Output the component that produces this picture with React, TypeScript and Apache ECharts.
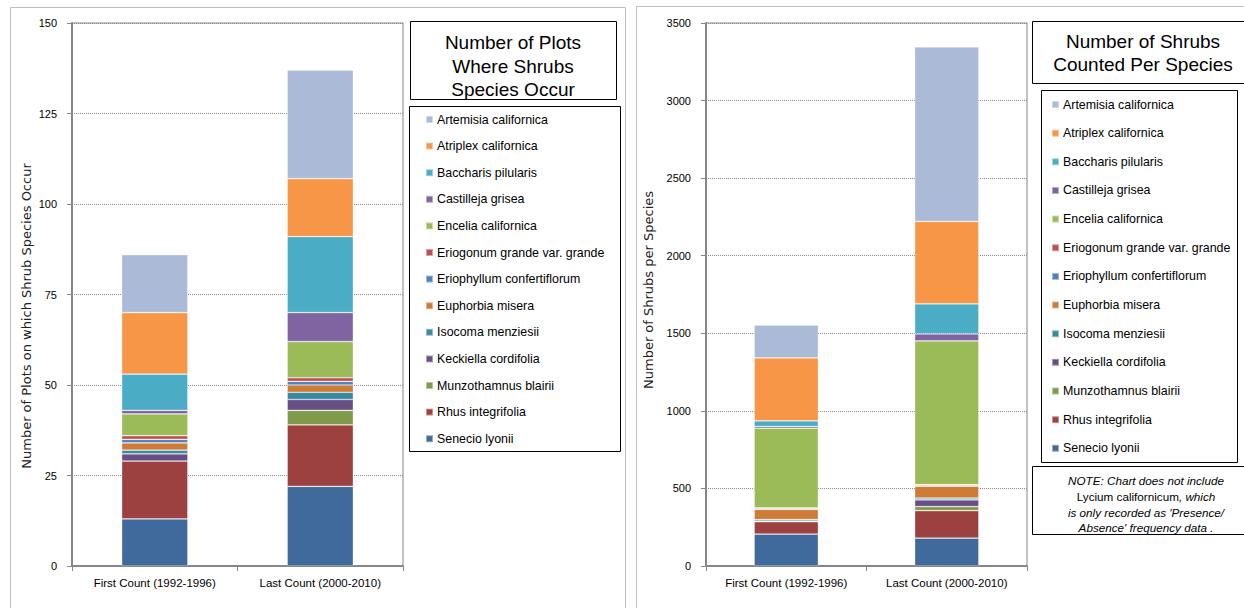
import React, { useEffect, useRef } from "react";
import * as echarts from "echarts";

// ---- data ----
const species = [
  "Artemisia californica",
  "Atriplex californica",
  "Baccharis pilularis",
  "Castilleja grisea",
  "Encelia californica",
  "Eriogonum grande var. grande",
  "Eriophyllum confertiflorum",
  "Euphorbia misera",
  "Isocoma menziesii",
  "Keckiella cordifolia",
  "Munzothamnus blairii",
  "Rhus integrifolia",
  "Senecio lyonii",
];
const categories = ["First Count (1992-1996)", "Last Count (2000-2010)"];

// Number of plots where species occur (same order as species)
const plotsFirst = [16, 17, 10, 1, 6, 1, 1, 2, 1, 2, 0, 16, 13];
const plotsLast = [30, 16, 21, 8, 10, 1, 1, 2, 2, 3, 4, 17, 22];

// Number of shrubs counted per species
const shrubsFirst = [211, 406, 37, 11, 513, 7, 3, 66, 9, 4, 0, 80, 206];
const shrubsLast = [1125, 531, 194, 45, 927, 6, 4, 76, 12, 43, 26, 177, 180];

const colors = [
  "#AABAD7",
  "#F79646",
  "#4BACC6",
  "#8064A2",
  "#9BBB59",
  "#C0504D",
  "#4F81BD",
  "#CE7B37",
  "#3A8A9F",
  "#674E85",
  "#7F9A48",
  "#9D4140",
  "#3F6A9B",
];

const NARROW = "'Liberation Sans Narrow', 'Arial Narrow', 'Liberation Sans', Arial, sans-serif";
const SANS = "'Liberation Sans', Arial, sans-serif";

function seriesFor(first: number[], last: number[], idx: number, stack: string) {
  const out: any[] = [];
  for (let i = species.length - 1; i >= 0; i--) {
    out.push({
      type: "bar",
      name: species[i],
      stack,
      xAxisIndex: idx,
      yAxisIndex: idx,
      barWidth: "40%",
      data: [first[i], last[i]],
      itemStyle: {
        color: colors[i],
        borderColor: "rgba(255,255,255,0.45)",
        borderWidth: 0.7,
      },
      emphasis: { disabled: true },
    });
  }
  return out;
}

function xAxis(gridIndex: number) {
  return {
    gridIndex,
    type: "category",
    data: categories,
    axisLine: { lineStyle: { color: "#868686", width: 2 } },
    axisTick: { show: true, length: 5, lineStyle: { color: "#868686" } },
    axisLabel: {
      interval: 0,
      margin: 11,
      fontSize: 11.5,
      fontFamily: NARROW,
      color: "#000",
    },
  };
}

function yAxis(gridIndex: number, max: number, interval: number) {
  return {
    gridIndex,
    type: "value",
    min: 0,
    max,
    interval,
    axisLine: { show: true, lineStyle: { color: "#868686", width: 2 } },
    axisTick: { show: true, length: 5, lineStyle: { color: "#868686" } },
    axisLabel: {
      margin: 15,
      fontSize: 11,
      fontFamily: NARROW,
      color: "#000",
      formatter: (v: number) => String(v),
    },
    splitLine: { show: true, lineStyle: { color: "#8c8c8c", type: [1, 1], width: 1 } },
  };
}

function box(x: number, y: number, w: number, h: number, stroke = "#000") {
  return {
    type: "rect",
    shape: { x: x + 0.5, y: y + 0.5, width: w, height: h },
    style: { fill: "none", stroke, lineWidth: 1 },
    silent: true,
    z: 10,
  };
}

function text(x: number, y: number, t: string, extra: any = {}) {
  return {
    type: "text",
    x,
    y,
    silent: true,
    z: 11,
    style: {
      text: t,
      textAlign: "center",
      textVerticalAlign: "middle",
      fill: "#000",
      fontSize: 19,
      fontFamily: SANS,
      ...extra,
    },
  };
}

const noteStyle = { fontSize: 11.7, fontFamily: NARROW, fontStyle: "italic" };

export default function App() {
  const ref = useRef<HTMLDivElement>(null);

  useEffect(() => {
    if (!ref.current) return;
    const chart = echarts.init(ref.current, null, { renderer: "svg" });
    const legendBase = {
      orient: "vertical",
      data: species,
      icon: "rect",
      itemWidth: 7,
      itemHeight: 7,
      itemGap: 11.6,
      selectedMode: false,
      padding: 0,
      textStyle: {
        fontSize: 12.4,
        lineHeight: 15,
        fontFamily: NARROW,
        color: "#000",
        padding: [0, 0, 0, -1],
      },
    };
    const option: any = {
      animation: false,
      backgroundColor: "#fff",
      grid: [
        {
          left: 72,
          top: 23,
          width: 331,
          height: 543,
          show: true,
          borderColor: "#868686",
          borderWidth: 1,
          containLabel: false,
        },
        {
          left: 706,
          top: 23,
          width: 321,
          height: 543,
          show: true,
          borderColor: "#868686",
          borderWidth: 1,
          containLabel: false,
        },
      ],
      xAxis: [xAxis(0), xAxis(1)],
      yAxis: [yAxis(0, 150, 25), yAxis(1, 3500, 500)],
      legend: [
        { ...legendBase, left: 425, top: 112, itemGap: 11.6 },
        { ...legendBase, left: 1051, top: 97, itemGap: 13.65 },
      ],
      series: [
        ...seriesFor(plotsFirst, plotsLast, 0, "plots"),
        ...seriesFor(shrubsFirst, shrubsLast, 1, "shrubs"),
      ],
      graphic: [
        // panel frames
        box(10, 7, 615, 700, "#BFBFBF"),
        box(636, 6, 700, 700, "#BFBFBF"),
        // left title box & legend box
        box(410, 21, 206, 78),
        box(409, 106, 211, 345),
        text(513, 42, "Number of Plots"),
        text(513, 66, "Where Shrubs"),
        text(513, 89, "Species Occur"),
        // right title, legend, note boxes
        box(1032, 21, 230, 62),
        box(1041, 90, 196, 372),
        box(1032, 466, 230, 68),
        text(1143, 41, "Number of Shrubs"),
        text(1143, 64, "Counted Per Species"),
        text(1146, 480, "NOTE: Chart does not include", noteStyle),
        {
          type: "text",
          x: 1146,
          y: 496,
          silent: true,
          z: 11,
          style: {
            text: "{n|Lycium californicum}{i|, which}",
            textAlign: "center",
            textVerticalAlign: "middle",
            rich: {
              n: { fontSize: 11.7, fontFamily: NARROW, fill: "#000", color: "#000" },
              i: {
                fontSize: 11.7,
                fontFamily: NARROW,
                fontStyle: "italic",
                fill: "#000",
                color: "#000",
              },
            },
          },
        },
        text(1146, 512, "is only recorded as 'Presence/", noteStyle),
        text(1146, 527, "Absence' frequency data .", noteStyle),
        // y axis titles
        {
          type: "text",
          x: 26,
          y: 316,
          rotation: Math.PI / 2,
          silent: true,
          z: 11,
          style: {
            text: "Number of Plots on which Shrub Species Occur",
            textAlign: "center",
            textVerticalAlign: "middle",
            fontSize: 13,
            fontFamily: "'DejaVu Sans', sans-serif",
            fill: "#222",
          },
        },
        {
          type: "text",
          x: 648,
          y: 290,
          rotation: Math.PI / 2,
          silent: true,
          z: 11,
          style: {
            text: "Number of Shrubs per Species",
            textAlign: "center",
            textVerticalAlign: "middle",
            fontSize: 13,
            fontFamily: "'DejaVu Sans', sans-serif",
            fill: "#222",
          },
        },
      ],
    };
    chart.setOption(option);
    return () => chart.dispose();
  }, []);

  return (
    <div
      ref={ref}
      style={{ position: "absolute", left: 0, top: 0, width: 1244, height: 608 }}
    />
  );
}
